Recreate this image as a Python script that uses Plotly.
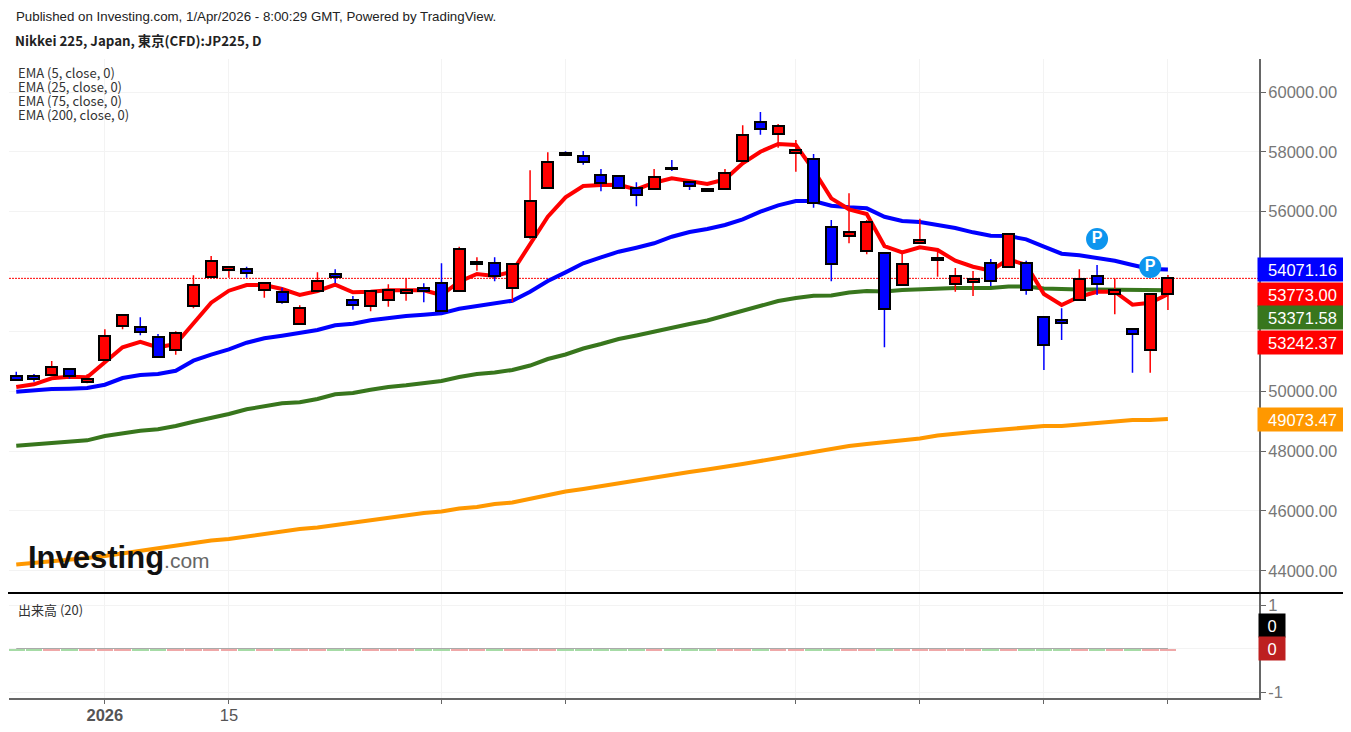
"""
Nikkei 225 daily candles with EMA overlays, redrawn from the Investing.com snapshot.
"""
import plotly.graph_objects as go

# --- Data ---
candle_x = list(range(66))
open_p = [50510, 50510, 50533, 50753, 50319, 51034, 52180, 52147, 51803, 51378, 52838, 53827, 54041, 54095, 53393, 53326,
          52237, 53340, 53908, 53049, 52838, 53049, 53293, 53450, 53607, 53350, 54242, 54295, 53440, 55144, 56802, 57971,
          57871, 57216, 57203, 56802, 56758, 57470, 57002, 56768, 56758, 57704, 59007, 58606, 57951, 57751, 55498, 55188,
          54696, 54609, 53540, 54944, 54396, 53594, 53640, 54295, 54142, 54295, 52491, 52391, 53039, 53851, 53239, 52090,
          51388, 53239]
high_p = [50653, 50576, 51011, 50753, 50566, 52070, 52581, 52471, 51913, 52003, 53874, 54519, 54152, 54162, 53607, 53460,
          52872, 53975, 54075, 53183, 53340, 53574, 53774, 53607, 54275, 54830, 54476, 54476, 54242, 57383, 57985, 58018,
          58028, 57427, 57203, 56982, 57427, 57727, 57002, 56768, 57427, 58887, 59331, 58930, 58396, 57928, 55722, 56614,
          55722, 54609, 54609, 55766, 54653, 54118, 54018, 54419, 55244, 54362, 52491, 52772, 54075, 54219, 53774, 52090,
          53273, 53884]
low_p = [50376, 50319, 50533, 50419, 50265, 51034, 52070, 51869, 51134, 51221, 52772, 53827, 53794, 53794, 53126, 52925,
         52237, 53340, 53607, 52725, 52671, 52825, 53026, 52972, 52691, 53350, 54028, 53674, 52982, 55077, 56802, 57894,
         57570, 56681, 56802, 56180, 56758, 57360, 56725, 56701, 56758, 57704, 58573, 58138, 57336, 56133, 53674, 54944,
         54576, 51468, 53540, 54944, 53827, 53326, 53183, 53517, 54142, 53226, 50710, 51712, 53039, 53216, 52571, 50620,
         50620, 52715]
close_p = [50376, 50426, 50800, 50519, 50399, 51846, 52548, 51980, 51134, 51936, 53550, 54342, 54152, 53941, 53607, 52982,
           52791, 53694, 53827, 52892, 53340, 53393, 53393, 53340, 52691, 54753, 54309, 53851, 54242, 56357, 57660, 57894,
           57650, 56949, 56802, 56548, 57159, 57437, 56848, 56701, 57303, 58563, 58753, 58863, 58061, 56300, 54242, 55311,
           55645, 52738, 54252, 55054, 54462, 53851, 53741, 53694, 55244, 53393, 51545, 52290, 53741, 53594, 53393, 51903,
           53239, 53773]

ema5 = [50142, 50232, 50432, 50486, 50466, 50967, 51468, 51655, 51468, 51579, 52270, 52959, 53360, 53550, 53550, 53416,
        53216, 53350, 53560, 53306, 53326, 53373, 53373, 53373, 53216, 53660, 53918, 53851, 53995, 54944, 55832, 56481,
        56858, 56892, 56902, 56748, 56969, 57116, 57016, 56925, 57082, 57617, 58005, 58262, 58229, 57393, 56447, 56080,
        55923, 54853, 54643, 54810, 54720, 54362, 54162, 54028, 54409, 54219, 53249, 52882, 53159, 53326, 53326, 52892,
        52959, 53242.37]
ema25 = [49984, 50031, 50075, 50085, 50108, 50218, 50442, 50543, 50576, 50686, 51022, 51221, 51401, 51622, 51769, 51856,
         51956, 52046, 52203, 52257, 52371, 52457, 52514, 52558, 52604, 52758, 52848, 52939, 53026, 53326, 53684, 53974,
         54275, 54476, 54663, 54797, 54944, 55164, 55321, 55422, 55555, 55746, 56000, 56213, 56357, 56357, 56200, 56147,
         56113, 55832, 55689, 55655, 55555, 55455, 55311, 55198, 55188, 55077, 54830, 54596, 54543, 54452, 54362, 54219,
         54085, 54071.16]
ema75 = [48180, 48227, 48270, 48314, 48360, 48504, 48594, 48682, 48728, 48838, 48982, 49095, 49239, 49396, 49483, 49597,
         49630, 49741, 49898, 49941, 50051, 50142, 50198, 50285, 50342, 50476, 50576, 50626, 50710, 50860, 51077, 51228,
         51428, 51579, 51746, 51863, 51996, 52147, 52247, 52364, 52531, 52681, 52848, 53015, 53116, 53193, 53199, 53299,
         53350, 53333, 53383, 53416, 53416, 53450, 53450, 53450, 53500, 53500, 53433, 53400, 53400, 53400, 53400, 53400,
         53400, 53371.58]
ema200 = [44210, 44260, 44327, 44377, 44427, 44494, 44578, 44661, 44761, 44812, 44912, 45012, 45062, 45146, 45229, 45296,
          45396, 45447, 45530, 45614, 45680, 45781, 45831, 45931, 45981, 46081, 46132, 46232, 46282, 46399, 46549, 46649,
          46733, 46833, 46917, 47017, 47101, 47201, 47301, 47385, 47468, 47569, 47669, 47769, 47869, 47986, 48053, 48170,
          48237, 48287, 48354, 48420, 48521, 48588, 48638, 48688, 48738, 48788, 48838, 48838, 48889, 48939, 48989, 49039,
          49039, 49073.47]

pin_x = [61, 64]
pin_y = [55088, 54152]
pin_text = ["<b>P</b>", "<b>P</b>"]

# volume is zero in the feed, the slivers only keep the bars visible
volume = [-0.05] * 66
volume_ma = [0] * 66

price_ticks = [44000, 46000, 48000, 50000, 52000, 54000, 56000, 58000, 60000]
price_labels = ["44000.00", "46000.00", "48000.00", "50000.00", "", "", "56000.00", "58000.00", "60000.00"]
date_ticks = [5, 12, 24, 31, 44, 51, 58, 65]
date_labels = ["<b>2026</b>", "15", "", "", "", "", "", ""]
ema_labels = ["EMA (5, close, 0)", "EMA (25, close, 0)", "EMA (75, close, 0)", "EMA (200, close, 0)"]

# --- Layout constants ---
FIG_W, FIG_H = 1335, 716
PAGE_OFFSET = 8  # browser body margin
PLOT_L, PLOT_R, PLOT_T, PLOT_B, PANE_SPLIT = 9, 1259, 59, 698, 593
X_RANGE = [-0.41, 70.14]
Y_RANGE = [43258, 61103]
VOL_RANGE = [-1.138, 1.276]
GRID = "#f3f3f3"
AXIS = "#666666"
TICK_FONT = dict(family="Liberation Sans", size=16.5, color="#777777")
RED, BLUE, GREEN, ORANGE = "#ff0000", "#0000ff", "#38761d", "#ff9800"


def px_x(px):
    return (px - PLOT_L) / (PLOT_R - PLOT_L)


def px_y(py):
    return 1 - (py - PLOT_T) / (PLOT_B - PLOT_T)


fig = go.Figure()

# EMA lines sit on the bottom layer, candles go above them through overlaying axes
for values, color in zip([ema200, ema75, ema25, ema5], [ORANGE, GREEN, BLUE, RED]):
    fig.add_trace(go.Scatter(x=candle_x, y=values, mode="lines", line=dict(color=color, width=4),
                             xaxis="x", yaxis="y", hoverinfo="skip"))

# wicks
fig.add_trace(go.Candlestick(
    x=candle_x, open=open_p, high=high_p, low=low_p, close=close_p,
    increasing=dict(line=dict(color=RED, width=1.5), fillcolor=RED),
    decreasing=dict(line=dict(color=BLUE, width=1.5), fillcolor=BLUE),
    whiskerwidth=0, xaxis="x", yaxis="y2",
))

# bodies with a black outline
up = [c >= o for o, c in zip(open_p, close_p)]
fig.add_trace(go.Bar(
    x=candle_x,
    y=[abs(c - o) for o, c in zip(open_p, close_p)],
    base=[min(o, c) for o, c in zip(open_p, close_p)],
    width=0.62,
    marker=dict(color=[RED if u else BLUE for u in up], line=dict(color="#000000", width=2)),
    xaxis="x", yaxis="y3",
))

fig.add_trace(go.Scatter(
    x=pin_x, y=pin_y, mode="markers+text", text=pin_text, textposition="middle center",
    textfont=dict(family="Liberation Sans", size=16, color="white"),
    marker=dict(color="#0d95ee", size=22), xaxis="x", yaxis="y3",
))

# volume pane
fig.add_trace(go.Bar(
    x=candle_x, y=volume, width=0.94,
    marker=dict(color=["#efa8a8" if u else "#a6dba6" for u in up], line=dict(width=0)),
    xaxis="x2", yaxis="y4",
))
fig.add_trace(go.Scatter(x=candle_x, y=volume_ma, mode="lines", line=dict(color="#aaaaaa", width=1),
                         xaxis="x2", yaxis="y4"))

annotations = []


def add_text(text, px, py, font):
    annotations.append(dict(text=text, x=px_x(px), y=px_y(py), xref="paper", yref="paper",
                            xanchor="left", yanchor="middle", showarrow=False, font=font))


add_text("Published on Investing.com, 1/Apr/2026 - 8:00:29 GMT, Powered by TradingView.", 14, 17,
         dict(family="Liberation Sans", size=13.3, color="#222222"))
add_text("<b>Nikkei 225, Japan, 東京(CFD):JP225, D</b>", 13, 40,
         dict(family="Noto Sans CJK JP", size=13.3, color="#222222"))
legend_font = dict(family="Noto Sans CJK JP", size=13, color="#333333")
for label, py in zip(ema_labels, [73, 86.5, 100, 114]):
    add_text(label, 16, py, legend_font)
add_text("出来高 (20)", 16, 609, legend_font)
add_text("<b>Investing</b><span style='font-size:21px;color:#666666'>.com</span>", 26, 557,
         dict(family="Liberation Sans", size=31, color="#111111"))

# value tags on the price scale, nudged apart the way the chart stacks them
tag_values = [54071.16, 53773.00, 53371.58, 53242.37, 49073.47]
tag_colors = [BLUE, RED, GREEN, RED, ORANGE]
tag_shifts = [0, -16, -27, -48, -1]
for value, color, shift in zip(tag_values, tag_colors, tag_shifts):
    annotations.append(dict(
        text=f"{value:.2f}", x=1, y=value, xref="paper", yref="y", xanchor="left", yanchor="middle",
        xshift=-2, yshift=shift, showarrow=False, bgcolor=color, width=89, height=23, borderpad=0,
        font=dict(family="Liberation Sans", size=16.5, color="white"),
    ))
for color, shift in zip(["#000000", "#bd2020"], [23, 0]):
    annotations.append(dict(
        text="0", x=1, y=0, xref="paper", yref="y4", xanchor="left", yanchor="middle",
        xshift=-1, yshift=shift, showarrow=False, bgcolor=color, width=26, height=23, borderpad=0,
        font=dict(family="Liberation Sans", size=16.5, color="white"),
    ))

shapes = [
    dict(type="line", xref="paper", yref="y", x0=0, x1=1, y0=close_p[-1], y1=close_p[-1],
         line=dict(color=RED, width=1, dash="2px,1px"), layer="below"),
    dict(type="line", xref="paper", yref="paper", x0=-0.01, x1=1.08, y0=px_y(PANE_SPLIT), y1=px_y(PANE_SPLIT),
         line=dict(color="#000000", width=2), layer="above"),
]

main_domain = [px_y(PANE_SPLIT), 1]
fig.update_layout(
    width=FIG_W,
    height=FIG_H,
    margin=dict(l=PLOT_L - PAGE_OFFSET, r=FIG_W - (PLOT_R - PAGE_OFFSET), t=PLOT_T - PAGE_OFFSET,
                b=FIG_H - (PLOT_B - PAGE_OFFSET), pad=0, autoexpand=False),
    paper_bgcolor="white",
    plot_bgcolor="white",
    showlegend=False,
    barmode="overlay",
    bargap=0,
    annotations=annotations,
    shapes=shapes,
    xaxis=dict(domain=[0, 1], range=X_RANGE, anchor="y", tickmode="array", tickvals=date_ticks, automargin=False,
               showticklabels=False, ticks="", showgrid=True, gridcolor=GRID, zeroline=False,
               rangeslider=dict(visible=False)),
    yaxis=dict(domain=main_domain, range=Y_RANGE, side="right", anchor="x", tickmode="array", automargin=False,
               tickvals=price_ticks, ticktext=price_labels, tickfont=TICK_FONT, ticks="outside", ticklen=5,
               ticklabelstandoff=-1, tickcolor=AXIS, showline=True, linecolor=AXIS, linewidth=2, gridcolor=GRID,
               zeroline=False),
    yaxis2=dict(overlaying="y", range=Y_RANGE, side="right", visible=False, automargin=False),
    yaxis3=dict(overlaying="y", range=Y_RANGE, side="right", visible=False, automargin=False),
    xaxis2=dict(domain=[0, 1], range=X_RANGE, anchor="y4", matches="x", tickmode="array", tickvals=date_ticks,
                ticktext=date_labels, tickfont=dict(family="Liberation Sans", size=16.5, color="#555555"),
                ticks="outside", ticklen=4, ticklabelstandoff=-3, tickcolor=AXIS, showline=True, linecolor=AXIS,
                linewidth=2, gridcolor=GRID, zeroline=False, tickangle=0, automargin=False),
    yaxis4=dict(domain=[0, px_y(PANE_SPLIT)], range=VOL_RANGE, side="right", anchor="x2", tickmode="array",
                tickvals=[1, 0, -1], ticktext=["1", "", "-1"], tickfont=TICK_FONT, ticks="outside", ticklen=5,
                ticklabelstandoff=-1, tickcolor=AXIS, showline=True, linecolor=AXIS, linewidth=2, gridcolor=GRID,
                zeroline=False, automargin=False),
)

fig.write_html("out.html")
